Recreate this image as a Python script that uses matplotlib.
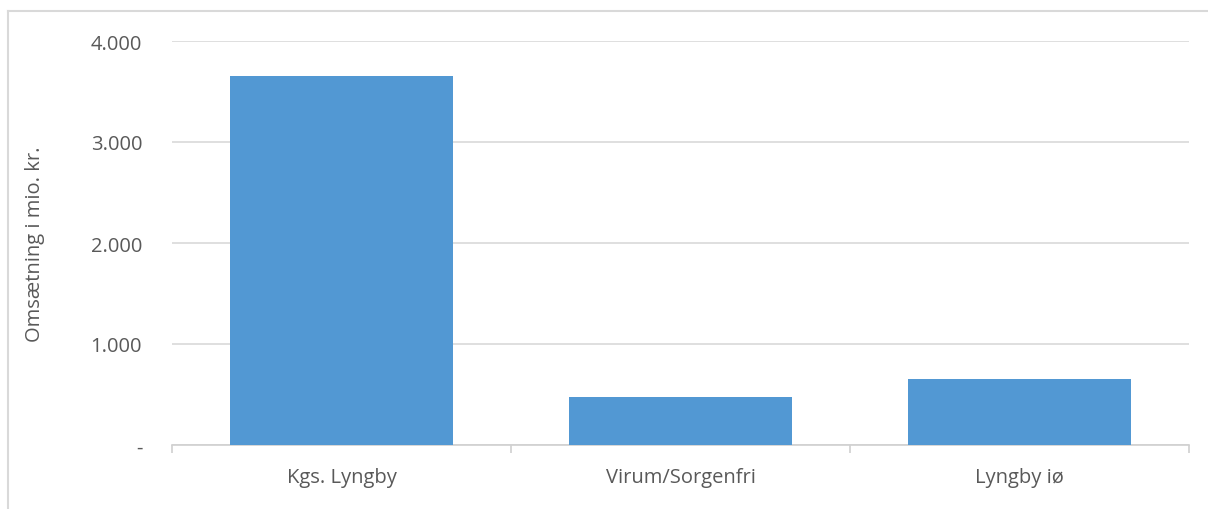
import matplotlib
matplotlib.use("Agg")
import matplotlib.pyplot as plt
from matplotlib.lines import Line2D

categories = ["Kgs. Lyngby", "Virum/Sorgenfri", "Lyngby iø"]
values = [3650, 475, 655]
yticks = [0, 1000, 2000, 3000, 4000]
ytick_labels = ["-", "1.000", "2.000", "3.000", "4.000"]

W, H = 1208, 510
fig = plt.figure(figsize=(W / 100, H / 100), dpi=100)
plt.rcParams['font.family'] = ['Open Sans', 'DejaVu Sans']

left, right = 172, 1189
top, bottom = 42, 446
ax = fig.add_axes([left / W, 1 - bottom / H, (right - left) / W, (bottom - top) / H])

txt = '#595959'
x = range(len(categories))
ax.bar(x, values, width=0.655, color='#5298D3', zorder=3)
ax.set_xlim(-0.5, len(categories) - 0.5)
ax.set_ylim(0, 4000)
ax.set_yticks(yticks)
ax.set_yticklabels(ytick_labels)
ax.set_xticks(list(x))
ax.set_xticklabels(categories)
ax.tick_params(axis='y', length=0, pad=21.5, labelsize=14.5, labelcolor=txt)
ax.tick_params(axis='x', length=0, pad=16, labelsize=14.5, labelcolor=txt)
# category boundary ticks
ax.set_xticks([-0.5, 0.5, 1.5, 2.5], minor=True)
ax.tick_params(axis='x', which='minor', length=6, color='#D0D0D0', width=1.2)
ax.grid(axis='y', color='#D9D9D9', linewidth=1.2, zorder=0)
for s in ['top', 'right', 'left']:
    ax.spines[s].set_visible(False)
ax.spines['bottom'].set_color('#D0D0D0')
ax.spines['bottom'].set_linewidth(1.2)
ax.set_ylabel("Omsætning i mio. kr.", fontsize=14.5, color=txt)
ax.yaxis.set_label_coords(-(172 - 45) / (right - left), 0.5)

# outer chart border (top and left visible)
fig.add_artist(Line2D([8 / W, 1], [1 - 12 / H, 1 - 12 / H], color='#D9D9D9', linewidth=1.5, transform=fig.transFigure))
fig.add_artist(Line2D([8 / W, 8 / W], [1 - 12 / H, 0], color='#D9D9D9', linewidth=1.5, transform=fig.transFigure))

fig.savefig("out.png", dpi=100)
